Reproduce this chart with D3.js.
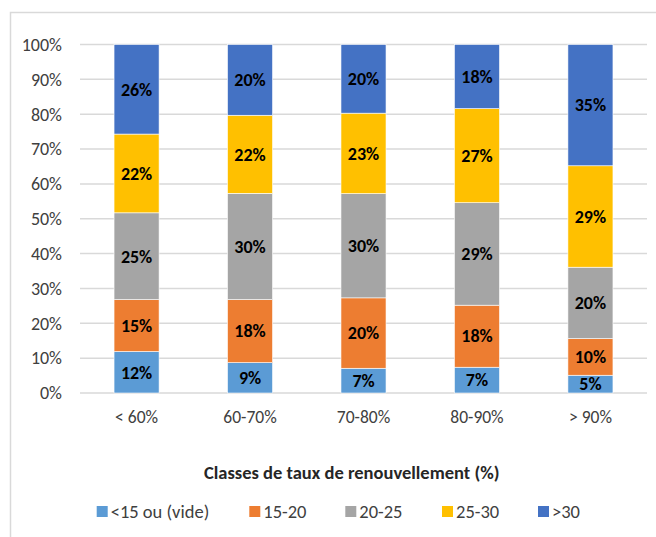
<!DOCTYPE html>
<html><head><meta charset="utf-8">
<script src="https://cdn.jsdelivr.net/npm/d3@7"></script>
<style>body{margin:0;background:#fff}svg{display:block}</style>
</head><body>
<svg id="c" width="656" height="537"></svg>
<script>
const categories = ["< 60%", "60-70%", "70-80%", "80-90%", "> 90%"];
const seriesNames = ["<15 ou (vide)", "15-20", "20-25", "25-30", ">30"];
const s1 = [11.9, 8.7, 7.1, 7.4, 5.1];
const s2 = [14.9, 18.1, 20.2, 17.8, 10.5];
const s3 = [24.9, 30.5, 29.9, 29.4, 20.5];
const s4 = [22.6, 22.4, 23.1, 27.0, 29.1];
const s5 = [25.7, 20.3, 19.7, 18.4, 34.8];
const labels1 = ["12%", "9%", "7%", "7%", "5%"];
const labels2 = ["15%", "18%", "20%", "18%", "10%"];
const labels3 = ["25%", "30%", "30%", "29%", "20%"];
const labels4 = ["22%", "22%", "23%", "27%", "29%"];
const labels5 = ["26%", "20%", "20%", "18%", "35%"];
const yTicks = [0,10,20,30,40,50,60,70,80,90,100];
const xTitle = "Classes de taux de renouvellement (%)";
const colors = ["#5B9BD5", "#ED7D31", "#A5A5A5", "#FFC000", "#4472C4"];

const seriesVals = [s1, s2, s3, s4, s5];
const seriesLabels = [labels1, labels2, labels3, labels4, labels5];
const rows = categories.map((c, i) => {
  const r = {cat: c};
  seriesNames.forEach((n, j) => r[n] = seriesVals[j][i]);
  return r;
});
const stack = d3.stack().keys(seriesNames)(rows);

const svg = d3.select("#c");
const font = "Carlito, Calibri, 'Open Sans', sans-serif";
svg.append("rect").attr("x", 10.5).attr("y", 12.5).attr("width", 660).attr("height", 540)
  .attr("fill", "none").attr("stroke", "#D9D9D9").attr("stroke-width", 1.5);

const L = 80, R = 647, T = 44.5, B = 393;
const x = d3.scaleBand().domain(categories).range([L, R]).paddingInner(0.603).paddingOuter(0.3);
const y = d3.scaleLinear().domain([0, 100]).range([B, T]);

svg.append("g").selectAll("line").data(yTicks).join("line")
  .attr("x1", L).attr("x2", R).attr("y1", d => y(d)).attr("y2", d => y(d))
  .attr("stroke", "#D9D9D9").attr("stroke-width", 1.5);

svg.append("g").selectAll("text").data(yTicks).join("text")
  .attr("x", 62).attr("y", d => y(d)).attr("dy", "0.35em").attr("text-anchor", "end")
  .attr("font-family", font).attr("font-size", 18).attr("fill", "#404040")
  .text(d => d + "%");

const g = svg.append("g");
stack.forEach((layer, j) => {
  g.append("g").selectAll("rect").data(layer).join("rect")
    .attr("x", d => x(d.data.cat)).attr("width", x.bandwidth())
    .attr("y", d => y(d[1])).attr("height", d => y(d[0]) - y(d[1]))
    .attr("fill", colors[j]).attr("stroke", "#fff").attr("stroke-width", 0.6);
});
stack.forEach((layer, j) => {
  g.append("g").selectAll("text").data(layer).join("text")
    .attr("x", d => x(d.data.cat) + x.bandwidth() / 2)
    .attr("y", d => (y(d[0]) + y(d[1])) / 2).attr("dy", "0.35em")
    .attr("text-anchor", "middle").attr("font-family", font).attr("font-size", 18)
    .attr("font-weight", "bold").attr("fill", "#000")
    .text((d, i) => seriesLabels[j][i]);
});

svg.append("g").selectAll("text").data(categories).join("text")
  .attr("x", d => x(d) + x.bandwidth() / 2).attr("y", 417).attr("dy", "0.35em")
  .attr("text-anchor", "middle").attr("font-family", font).attr("font-size", 17.5).attr("fill", "#404040")
  .text(d => d);

svg.append("text").attr("x", 351.7).attr("y", 473).attr("dy", "0.35em")
  .attr("text-anchor", "middle").attr("font-family", font).attr("font-size", 18.5)
  .attr("font-weight", "bold").attr("fill", "#262626").text(xTitle);

const legX = [96.7, 249.3, 345.3, 442, 538];
const leg = svg.append("g").selectAll("g").data(seriesNames).join("g")
  .attr("transform", (d, i) => `translate(${legX[i]},${511.5})`);
leg.append("rect").attr("x", 0).attr("y", -5.5).attr("width", 11).attr("height", 11)
  .attr("fill", (d, i) => colors[i]);
leg.append("text").attr("x", 14).attr("y", 0).attr("dy", "0.35em")
  .attr("font-family", font).attr("font-size", 18.5).attr("fill", "#404040").text(d => d);
</script>
</body></html>
